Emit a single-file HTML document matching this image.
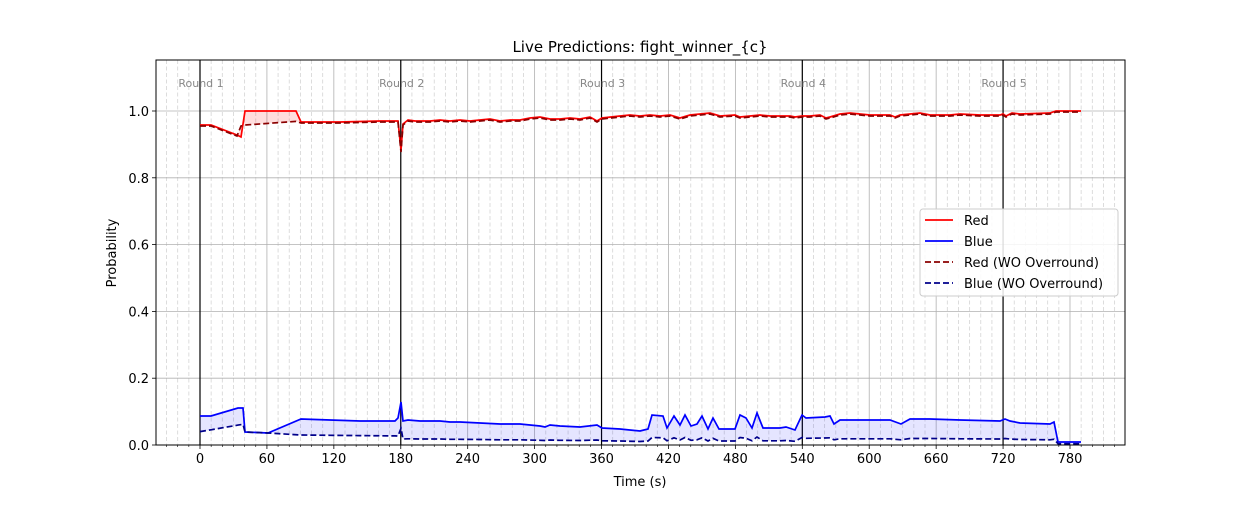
<!DOCTYPE html>
<html><head><meta charset="utf-8"><style>
body{margin:0;background:#fff;}
svg text{font-family:"DejaVu Sans","Liberation Sans",sans-serif;}
</style></head><body>
<svg id="s" width="1250" height="500" xmlns="http://www.w3.org/2000/svg"></svg>
<script>
const s=document.getElementById('s');
let h='';
const L=156,R=1125,T=60,B=445;
const X=t=>200+t*1.11538, Y=p=>445-p*334;
for(let t=-30;t<=820;t+=10){if(t%60==0)continue;const x=X(t);h+=`<line x1="${x}" y1="${T}" x2="${x}" y2="${B}" stroke="#d4d4d4" stroke-width="0.8" stroke-dasharray="4,2.5"/>`;h+=`<line x1="${x}" y1="${B}" x2="${x}" y2="${B+2}" stroke="#000" stroke-width="0.6"/>`;}
for(let t=0;t<=780;t+=60){const x=X(t);h+=`<line x1="${x}" y1="${T}" x2="${x}" y2="${B}" stroke="#b0b0b0" stroke-width="0.8"/>`;h+=`<line x1="${x}" y1="${B}" x2="${x}" y2="${B+4}" stroke="#000" stroke-width="0.8"/><text x="${x}" y="${B+18}" font-size="13" text-anchor="middle">${t}</text>`;}
for(let i=0;i<=5;i++){const p=i*0.2,y=Y(p);h+=`<line x1="${L}" y1="${y}" x2="${R}" y2="${y}" stroke="#b0b0b0" stroke-width="0.8"/><line x1="${L-4}" y1="${y}" x2="${L}" y2="${y}" stroke="#000" stroke-width="0.8"/><text x="${L-7}" y="${y+5}" font-size="13" text-anchor="end">${p.toFixed(1)}</text>`;}
[0,180,360,540,720].forEach((t,i)=>{const x=X(t);h+=`<line x1="${x}" y1="${T}" x2="${x}" y2="${B}" stroke="#000" stroke-width="1.2"/><text x="${x+1}" y="87" font-size="11" fill="#888" text-anchor="middle">Round ${i+1}</text>`;});
const blue=[[200,416],[211,416],[238,408],[243,408],[245,432],[268,433],[301,419],[330,420],[360,421],[395,421],[398,418],[401,402],[403,421],[408,420],[420,421],[440,421],[450,422],[460,422],[480,423],[500,424],[520,424],[540,426],[545,427],[550,425],[560,426],[580,427],[597,425],[602,428],[620,429],[640,431],[648,429],[652,415],[663,416],[667,428],[674,416],[680,425],[685,415],[691,426],[697,424],[702,416],[708,429],[713,418],[719,429],[735,429],[740,415],[746,418],[752,428],[757,413],[763,428],[780,428],[786,427],[795,430],[802,415],[806,418],[825,417],[830,416],[834,424],[840,420],[890,420],[901,424],[910,419],[930,419],[960,420],[1000,421],[1005,419],[1010,421],[1020,423],[1050,424],[1054,422],[1058,442],[1081,442]];
const red=[[200,125],[211,125],[237,135],[241,137],[245,111],[296,111],[301,122],[340,122],[380,121],[398,121],[401,150],[403,124],[408,120],[415,121],[430,121],[440,120],[450,121],[460,120],[470,121],[480,120],[490,119],[500,121],[510,120],[520,120],[530,118],[540,117],[550,119],[560,119],[570,118],[580,119],[590,117],[597,121],[602,118],[620,116],[630,115],[640,116],[650,115],[660,116],[670,115],[680,118],[690,115],[700,114],[710,113],[720,116],[735,115],[740,117],[750,116],[760,115],[770,116],[780,116],[790,116],[795,117],[802,116],[810,116],[820,115],[826,118],[830,117],[840,114],[850,113],[870,115],[890,115],[895,117],[900,115],[910,114],[920,113],[930,115],[950,115],[960,114],[980,115],[1000,115],[1003,114],[1006,116],[1012,113],[1020,114],[1050,113],[1056,111],[1081,111]];
const bd=blue.map(([x,y])=>{let p=(445-y)/334;let q;
 if(x<=243)q=0.04+(x-200)/43*0.022; else if(x<=268)q=p; else if(x<401)q=0.031-(x-268)/132*0.004; else if(x==401)q=0.05; else q=p*0.25; if(x>=1058)q=0.004;return[x,Y(q)];});
const rd=red.map(([x,y])=>{if(x>=245&&x<=296)return[x,125-(x-245)*0.07];if(x==401)return[x,152];if(x==241)return[x,126];return[x,y+1];});
const pts=a=>a.map(p=>p[0].toFixed(1)+','+p[1].toFixed(1)).join(' ');
h+=`<polygon points="${pts(red)} ${pts(rd.slice().reverse())}" fill="rgba(255,0,0,0.13)"/>`;
h+=`<polygon points="${pts(blue)} ${pts(bd.slice().reverse())}" fill="rgba(0,0,255,0.1)"/>`;
h+=`<polyline points="${pts(red)}" fill="none" stroke="#f00" stroke-width="1.7"/>`;
h+=`<polyline points="${pts(blue)}" fill="none" stroke="#00f" stroke-width="1.7"/>`;
h+=`<polyline points="${pts(rd)}" fill="none" stroke="#8b0000" stroke-width="1.7" stroke-dasharray="6,3"/>`;
h+=`<polyline points="${pts(bd)}" fill="none" stroke="#00008b" stroke-width="1.7" stroke-dasharray="6,3"/>`;
h+=`<rect x="${L}" y="${T}" width="${R-L}" height="${B-T}" fill="none" stroke="#000" stroke-width="1"/>`;
h+=`<rect x="920" y="209" width="198" height="87" rx="3" fill="rgba(255,255,255,0.85)" stroke="#ccc"/>`;
[['Red','#f00',''],['Blue','#00f',''],['Red (WO Overround)','#8b0000','6,3'],['Blue (WO Overround)','#00008b','6,3']].forEach((l,i)=>{const y=220+i*21;h+=`<line x1="925" y1="${y}" x2="953" y2="${y}" stroke="${l[1]}" stroke-width="1.7" stroke-dasharray="${l[2]}"/><text x="964" y="${y+5}" font-size="13">${l[0]}</text>`;});
h+=`<text x="640" y="52" font-size="15" text-anchor="middle">Live Predictions: fight_winner_{c}</text>`;
h+=`<text x="640" y="486" font-size="13" text-anchor="middle">Time (s)</text>`;
h+=`<text x="116" y="253" font-size="13" text-anchor="middle" transform="rotate(-90 116 253)">Probability</text>`;
s.innerHTML=h;
</script>
</body></html>
